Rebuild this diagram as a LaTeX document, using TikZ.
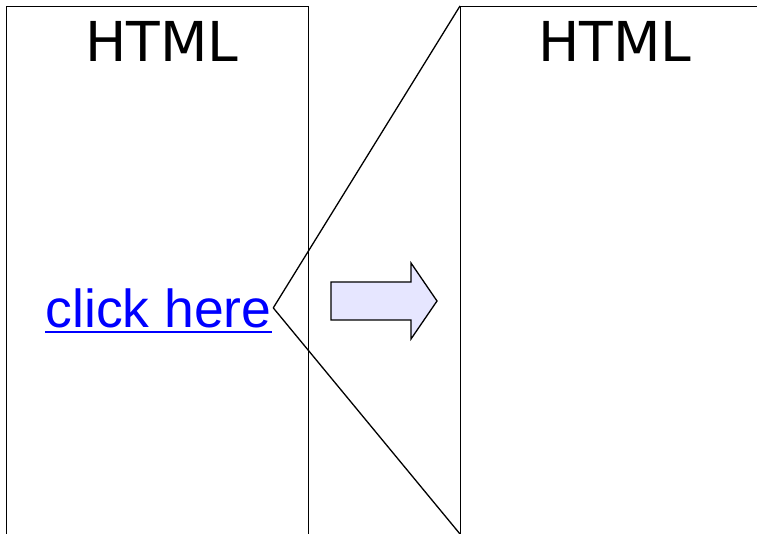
\documentclass[tikz,border=0pt]{standalone}
\usepackage{xcolor}
\usepackage{fontspec}
\setmainfont{Liberation Sans}
\newfontfamily\titlefont{DejaVu Sans}
\usepackage{tikz}
\usetikzlibrary{calc, positioning}
\definecolor{arrowfill}{RGB}{230,230,255}
\tikzset{page/.style={rectangle,draw,line width=1.3pt,inner sep=0pt,anchor=north west},
title/.style={anchor=base,inner sep=0pt,font=\titlefont\fontsize{55}{60}\selectfont}}

\begin{document}
\begin{tikzpicture}[x=1pt,y=-1pt,line width=1.3pt]

\useasboundingbox (0,0) rectangle (757,534);

%DRAWING the two pages
 \node[page,minimum width=302pt,minimum height=560pt] (Page1) at (6,6) {};
 \node[page,minimum width=340pt,minimum height=560pt] (Page2) at (460,6) {};

 \node[title] (Title1) at (162,62) {HTML};
 \node[title] (Title2) at (615,62) {HTML};

%Inserting link and zoom lines
 \node[anchor=base west,inner sep=0pt,inner xsep=1pt,text=blue,
       font=\fontsize{53.5}{58}\selectfont] (Link) at (44,327) {click here};
 \draw[blue,line width=2.8pt] ($(Link.base west)+(1,5)$) -- ($(Link.base east)+(-1,5)$);

 \coordinate (PageBottom) at (460,534);
 \draw (Link.east) -- (Page2.north west);
 \draw (Link.east) -- (PageBottom);

%Block arrow
 \draw[fill=arrowfill] (331,282) -- (411,282) -- (411,263) -- (437,301)
   -- (411,339) -- (411,320) -- (331,320) -- cycle;

\end{tikzpicture}
\end{document}
